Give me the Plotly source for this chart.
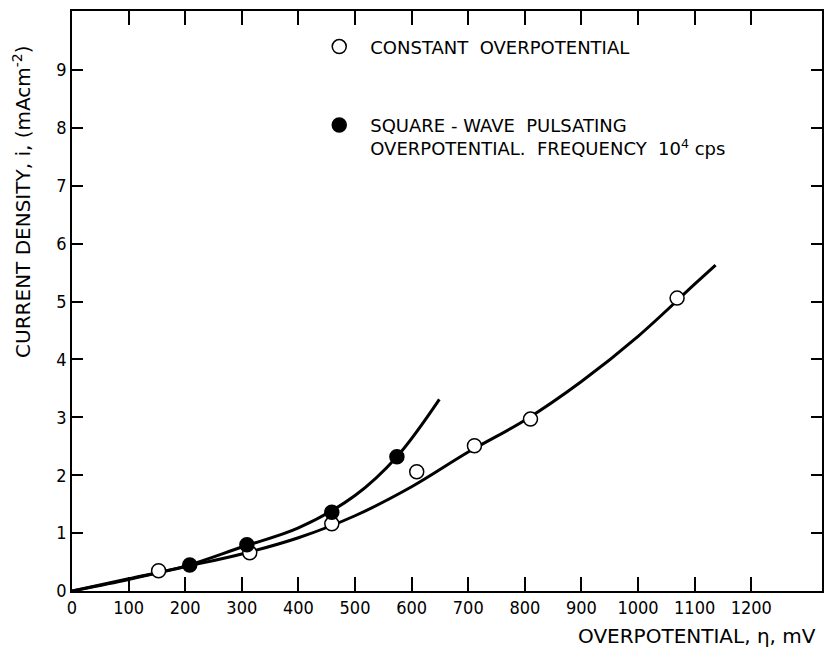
import plotly.graph_objects as go

# Data
const_pts_x = [153, 314, 459, 609, 711, 810, 1069]
const_pts_y = [0.35, 0.66, 1.16, 2.06, 2.51, 2.97, 5.06]
pulse_pts_x = [208, 309, 459, 574]
pulse_pts_y = [0.45, 0.80, 1.36, 2.32]

const_curve_x = [0, 100, 200, 300, 400, 500, 600, 700, 800, 900, 1000, 1100, 1137]
const_curve_y = [0, 0.20, 0.42, 0.64, 0.92, 1.30, 1.80, 2.40, 2.95, 3.62, 4.40, 5.30, 5.63]
pulse_curve_x = [0, 100, 200, 300, 400, 500, 574, 649]
pulse_curve_y = [0, 0.21, 0.43, 0.76, 1.09, 1.65, 2.32, 3.31]

x_ticks = list(range(0, 1300, 100))
y_ticks = list(range(0, 10))

FONT = "DejaVu Sans Condensed"
TFONT = "DejaVu Sans"

fig = go.Figure()
fig.add_trace(go.Scatter(x=const_curve_x, y=const_curve_y, mode="lines",
                         line=dict(color="black", width=3, shape="spline", smoothing=1.0),
                         showlegend=False))
fig.add_trace(go.Scatter(x=pulse_curve_x, y=pulse_curve_y, mode="lines",
                         line=dict(color="black", width=3, shape="spline", smoothing=1.0),
                         showlegend=False))
fig.add_trace(go.Scatter(x=const_pts_x, y=const_pts_y, mode="markers",
                         marker=dict(symbol="circle", size=14, color="white",
                                     line=dict(color="black", width=1.5)),
                         name="CONSTANT  OVERPOTENTIAL", legendgroup="a"))
fig.add_trace(go.Scatter(x=pulse_pts_x, y=pulse_pts_y, mode="markers",
                         marker=dict(symbol="circle", size=14, color="black",
                                     line=dict(color="black", width=1.5)),
                         name="SQUARE - WAVE  PULSATING<br>OVERPOTENTIAL.  FREQUENCY  10<sup>4</sup> cps",
                         legendgroup="b"))

axis_common = dict(showgrid=False, zeroline=False, showline=True, linecolor="black",
                   linewidth=1.5, ticks="inside", mirror="ticks", tickcolor="black",
                   tickwidth=1.5, tickfont=dict(family=FONT, size=18, color="black"))
fig.update_xaxes(range=[0, 1325], tickvals=x_ticks, ticklen=14, **axis_common)
fig.update_yaxes(range=[0, 10.02], tickvals=y_ticks, ticklen=11, **axis_common)

fig.update_layout(
    width=826, height=662,
    margin=dict(l=72, r=2, t=11, b=71),
    plot_bgcolor="white", paper_bgcolor="white",
    font=dict(family=TFONT, size=17, color="black"),
    legend=dict(x=0.315, y=0.97, xanchor="left", yanchor="top", itemwidth=52,
                bgcolor="rgba(0,0,0,0)", traceorder="grouped", tracegroupgap=52,
                valign="top", font=dict(family=TFONT, size=18)),
    annotations=[
        dict(text="CURRENT DENSITY, i, (mAcm<sup>-2</sup>)", xref="paper", yref="paper",
             x=-0.066, y=0.67, textangle=-90, showarrow=False, xanchor="center",
             yanchor="middle", font=dict(family=TFONT, size=20)),
        dict(text="OVERPOTENTIAL, η, mV", xref="paper", yref="paper",
             x=0.994, y=-0.078, showarrow=False, xanchor="right", yanchor="middle",
             font=dict(family=TFONT, size=20)),
    ],
)

fig.write_html("out.html")
